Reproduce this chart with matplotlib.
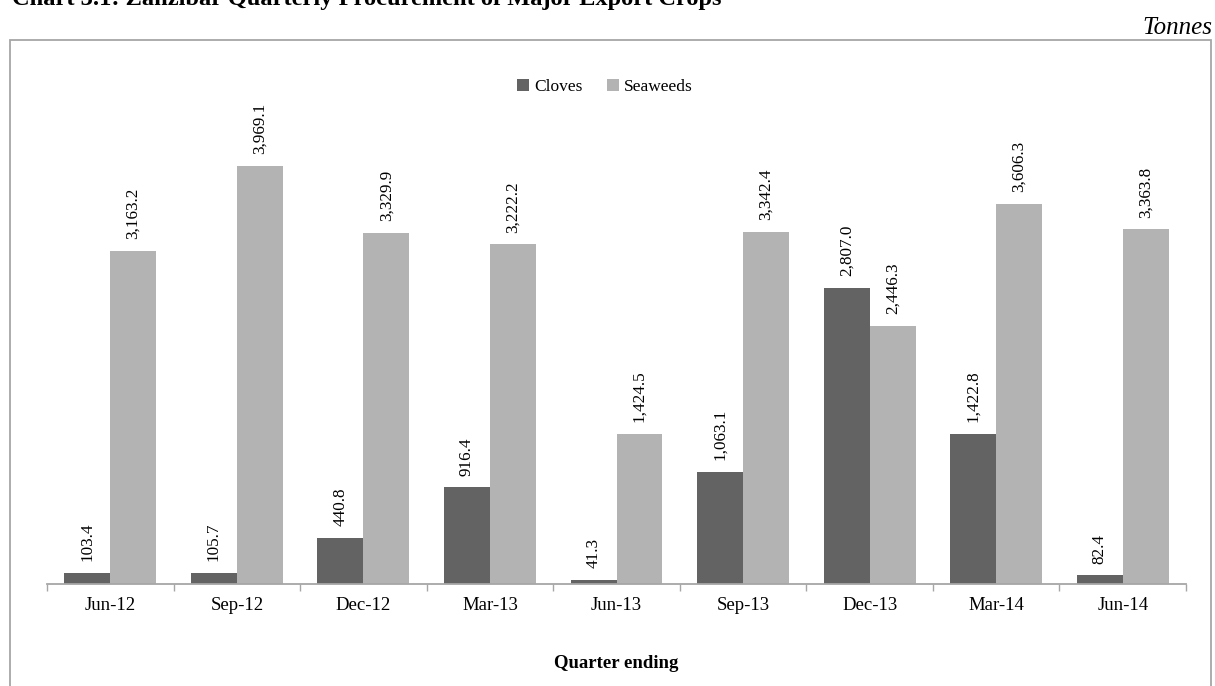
import matplotlib
matplotlib.use("Agg")
import matplotlib.pyplot as plt
from matplotlib.patches import Rectangle
import numpy as np

categories = ["Jun-12", "Sep-12", "Dec-12", "Mar-13", "Jun-13", "Sep-13", "Dec-13", "Mar-14", "Jun-14"]
cloves = [103.4, 105.7, 440.8, 916.4, 41.3, 1063.1, 2807.0, 1422.8, 82.4]
seaweeds = [3163.2, 3969.1, 3329.9, 3222.2, 1424.5, 3342.4, 2446.3, 3606.3, 3363.8]

plt.rcParams['font.family'] = ['Liberation Serif', 'DejaVu Serif']

W, H = 1215, 686
fig = plt.figure(figsize=(W / 100, H / 100), dpi=100)

# outer chart border
border = Rectangle((10 / W, -0.05), (1211 - 10) / W, (1 - 40 / H) + 0.05,
                   transform=fig.transFigure, fill=False, edgecolor='#a6a6a6', linewidth=1.3)
fig.patches.append(border)

ax_left, ax_right, ax_bottom, ax_top = 47, 1186, 584, 60
ax = fig.add_axes([ax_left / W, 1 - ax_bottom / H, (ax_right - ax_left) / W, (ax_bottom - ax_top) / H])

x = np.arange(len(categories))
w = 0.363
c_col = '#636363'
s_col = '#b3b3b3'
b1 = ax.bar(x - w / 2, cloves, w, color=c_col, label='Cloves')
b2 = ax.bar(x + w / 2, seaweeds, w, color=s_col, label='Seaweeds')

for bars, vals in ((b1, cloves), (b2, seaweeds)):
    for rect, v in zip(bars, vals):
        ax.annotate(f"{v:,.1f}", (rect.get_x() + rect.get_width() / 2, rect.get_height()),
                    xytext=(0, 8.5), textcoords='offset points', rotation=90,
                    ha='center', va='bottom', fontsize=12.3)

ax.set_xlim(-0.5, len(categories) - 0.5)
ax.set_ylim(0, 524 / 0.1054)

ax.set_xticks(np.arange(len(categories) + 1) - 0.5)
ax.set_xticklabels([])
ax.set_xticks(x, minor=True)
ax.set_xticklabels(categories, minor=True, fontsize=13.5)
ax.tick_params(axis='x', which='major', length=5, color='#a6a6a6', width=1)
ax.tick_params(axis='x', which='minor', length=0, pad=9)
ax.set_yticks([])
for s in ('left', 'top', 'right'):
    ax.spines[s].set_visible(False)
ax.spines['bottom'].set_color('#a6a6a6')
ax.spines['bottom'].set_linewidth(1.3)

fig.text((ax_left + ax_right) / 2 / W, 1 - 663 / H, "Quarter ending", ha='center', va='center',
         fontsize=13.5, fontweight='bold')

fig.legend(handles=[b1, b2], loc='center', bbox_to_anchor=(605 / W, 1 - 87 / H), ncol=2,
           frameon=False, fontsize=12.5, handlelength=0.7, handleheight=0.7, handletextpad=0.3,
           columnspacing=1.4)

fig.text(1212 / W, 1 - 34 / H, "Tonnes", ha='right', va='baseline', fontsize=18, style='italic')

fig.text(12 / W, 1 - 5 / H, "Chart 3.1: Zanzibar Quarterly Procurement of Major Export Crops",
         ha='left', va='baseline', fontsize=17.6, fontweight='bold')

fig.savefig("out.png", dpi=100)
